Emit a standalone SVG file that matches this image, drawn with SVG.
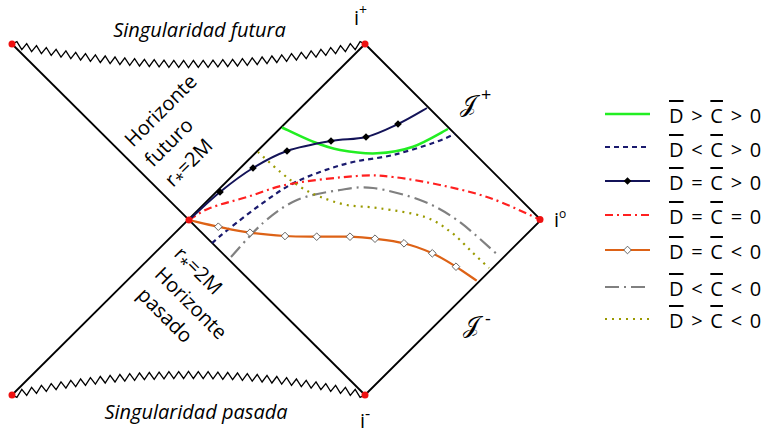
<svg xmlns="http://www.w3.org/2000/svg" width="767" height="434" viewBox="0 0 767 434">
<style>
.edge{stroke:#000;stroke-width:1.8;fill:none}
.zig{stroke:#000;stroke-width:1.3;fill:none}
.dot{fill:#ee1111}
.lbl{font-family:"Open Sans","Noto Sans","DejaVu Sans",sans-serif;font-size:20px;fill:#000}
.it{font-style:italic;font-size:20px}
.scr{font-family:"DejaVu Serif","DejaVu Sans","Liberation Serif",serif;font-size:24px;fill:#000}
.sup{font-family:"Open Sans","DejaVu Sans",sans-serif;font-size:18px}
.ov{text-decoration:overline}
.green{stroke:#22ee22;stroke-width:2.5;fill:none}
.navyd{stroke:#1a1a6e;stroke-width:2.2;stroke-dasharray:5 4;fill:none}
.navy{stroke:#131358;stroke-width:2;fill:none}
.red{stroke:#ff2020;stroke-width:2.2;stroke-dasharray:8 4 2 4;fill:none}
.orange{stroke:#dd6216;stroke-width:2.2;fill:none}
.gray{stroke:#808080;stroke-width:2.2;stroke-dasharray:14 5 2 5;fill:none}
.olive{stroke:#9a9a00;stroke-width:2.2;stroke-dasharray:2 5;fill:none}
.bd{fill:#000}
.wd{fill:#fff;stroke:#555;stroke-width:0.9}
</style>
<defs>
<path id="dm" d="M0,-3.8 L3.8,0 L0,3.8 L-3.8,0Z"/>
</defs>

<g id="singularities">
<path class="zig" d="M12,44 L16.9,41.6 L21.8,49.7 L26.7,43.7 L31.6,51.7 L36.5,45.7 L41.4,53.6 L46.3,47.5 L51.2,55.4 L56.1,49.3 L61,57.1 L65.9,50.9 L70.8,58.6 L75.7,52.3 L80.6,60 L85.5,53.7 L90.4,61.3 L95.4,54.9 L100.3,62.5 L105.2,56 L110.1,63.6 L115,57 L119.9,64.5 L124.8,57.9 L129.7,65.3 L134.6,58.6 L139.5,66 L144.4,59.3 L149.3,66.5 L154.2,59.7 L159.1,66.9 L164,60.1 L168.9,67.3 L173.8,60.4 L178.7,67.4 L183.6,60.5 L188.5,67.5 L193.4,60.5 L198.3,67.4 L203.2,60.4 L208.1,67.3 L213,60.1 L217.9,66.9 L222.8,59.7 L227.7,66.5 L232.6,59.3 L237.5,66 L242.4,58.6 L247.3,65.3 L252.2,57.9 L257.2,64.5 L262.1,57 L267,63.6 L271.9,56 L276.8,62.5 L281.7,54.9 L286.6,61.3 L291.5,53.7 L296.4,60 L301.3,52.3 L306.2,58.6 L311.1,50.9 L316,57.1 L320.9,49.3 L325.8,55.4 L330.7,47.5 L335.6,53.6 L340.5,45.7 L345.4,51.7 L350.3,43.7 L355.2,49.7 L360.1,41.6 L365,44"/>
<path class="zig" d="M12,395 L16.9,397.4 L21.8,389.3 L26.7,395.3 L31.6,387.3 L36.5,393.3 L41.4,385.4 L46.3,391.5 L51.2,383.6 L56.1,389.7 L61,381.9 L65.9,388.1 L70.8,380.4 L75.7,386.7 L80.6,379 L85.5,385.3 L90.4,377.7 L95.4,384.1 L100.3,376.5 L105.2,383 L110.1,375.4 L115,382 L119.9,374.5 L124.8,381.1 L129.7,373.7 L134.6,380.4 L139.5,373 L144.4,379.7 L149.3,372.5 L154.2,379.3 L159.1,372.1 L164,378.9 L168.9,371.7 L173.8,378.6 L178.7,371.6 L183.6,378.5 L188.5,371.5 L193.4,378.5 L198.3,371.6 L203.2,378.6 L208.1,371.7 L213,378.9 L217.9,372.1 L222.8,379.3 L227.7,372.5 L232.6,379.7 L237.5,373 L242.4,380.4 L247.3,373.7 L252.2,381.1 L257.2,374.5 L262.1,382 L267,375.4 L271.9,383 L276.8,376.5 L281.7,384.1 L286.6,377.7 L291.5,385.3 L296.4,379 L301.3,386.7 L306.2,380.4 L311.1,388.1 L316,381.9 L320.9,389.7 L325.8,383.6 L330.7,391.5 L335.6,385.4 L340.5,393.3 L345.4,387.3 L350.3,395.3 L355.2,389.3 L360.1,397.4 L365,395"/>
</g>

<g id="frame">
<line class="edge" x1="12" y1="44" x2="365" y2="395"/>
<line class="edge" x1="12" y1="395" x2="365" y2="44"/>
<polyline class="edge" points="365,44 541,220 365,395"/>
</g>

<g id="connectors">
<path class="green" d="M282,127.5 C287.2,129.9 303.3,137.95 313,141.7 C322.7,145.5 329.3,148.1 340,150 C350.7,151.9 364.8,153.85 377,153.3 C389.2,152.8 401.2,150.75 413,146.7 C424.8,142.6 442.2,131.95 448,129"/>
<path class="navyd" d="M212,243 C215,240.5 222,234.3 230,228 C238,221.7 250,212.2 260,205 C270,197.8 280,190.5 290,185 C300,179.5 309.5,175.8 320,172 C330.5,168.2 340.8,164.8 353,162 C365.2,159.2 379.7,158.2 393,155 C406.3,151.8 422.7,146.5 433,143 C443.3,139.5 451.3,135.5 455,134"/>
<path class="red" d="M189,220 C192.5,218 200.3,211.8 210,208 C219.7,204.2 233.7,201 247,197 C260.3,193 271.7,187.5 290,184 C308.3,180.5 339.8,177.2 357,176 C374.2,174.8 379.2,175.5 393,177 C406.8,178.5 423.8,181.5 440,185 C456.2,188.5 473.2,192.2 490,198 C506.8,203.8 532.5,216.3 541,220"/>
<path class="gray" d="M231,257 C236.3,251.3 252,232.5 263,223 C274,213.5 284.2,205.5 297,200 C309.8,194.5 327.3,192 340,190 C352.7,188 359.7,186.3 373,188 C386.3,189.7 406,194.7 420,200 C434,205.3 444,210.8 457,220 C470,229.2 491.2,249.2 498,255"/>
<path class="olive" d="M258,152 C261.7,155.3 273,165.9 280,171.7 C287,177.5 293.3,182.5 300,186.7 C306.7,190.9 312.2,193.65 320,196.7 C327.8,199.75 337,203.1 347,205 C357,206.9 367,206.3 380,208.3 C393,210.3 413,212.9 425,217 C437,221.1 444,227 452,233 C460,239 466.8,247.2 473,253 C479.2,258.8 486.3,265.5 489,268"/>
<path class="orange" d="M189,220 C193.9,221.1 208.1,224.6 218.3,226.7 C228.5,228.8 238.9,231.15 250,232.7 C261.1,234.25 273.9,235.3 285,236 C296.1,236.7 305.9,236.6 316.7,236.7 C327.5,236.8 340.3,236.4 350,236.7 C359.7,237 366,237.6 375,238.7 C384,239.8 394.4,240.9 404,243.3 C413.6,245.7 423.6,249.4 432.3,253.3 C441,257.2 448.6,262.1 456,266.7 C463.4,271.3 473.25,278.4 476.7,280.7"/>
<path class="navy" d="M189,220 C194.2,215.3 209.3,200.7 220,192 C230.7,183.3 241.8,174.8 253,168 C264.2,161.2 274,155.5 287,151 C300,146.5 317.8,143.3 331,141 C344.2,138.7 354.8,139.8 366,137 C377.2,134.2 387.8,128.8 398,124 C408.2,119.2 422.2,110.7 427,108"/>
<g class="bd">
<use href="#dm" x="220" y="192"/><use href="#dm" x="253" y="168"/><use href="#dm" x="287" y="151"/><use href="#dm" x="331" y="141"/><use href="#dm" x="366" y="137"/><use href="#dm" x="398" y="124"/>
</g>
<g class="wd">
<use href="#dm" x="218.3" y="226.7"/><use href="#dm" x="250" y="232.7"/><use href="#dm" x="285" y="236"/><use href="#dm" x="316.7" y="236.7"/><use href="#dm" x="350" y="236.7"/><use href="#dm" x="375" y="238.7"/><use href="#dm" x="404" y="243.3"/><use href="#dm" x="432.3" y="253.3"/><use href="#dm" x="456" y="266.7"/>
</g>
</g>

<g id="dots">
<circle class="dot" cx="12" cy="44" r="3.5"/>
<circle class="dot" cx="365" cy="44" r="3.5"/>
<circle class="dot" cx="189" cy="220" r="3.5"/>
<circle class="dot" cx="540" cy="219.5" r="3.5"/>
<circle class="dot" cx="12" cy="395" r="3.5"/>
<circle class="dot" cx="365" cy="395" r="3.5"/>
</g>

<g id="labels">
<text class="lbl it" x="199.5" y="37" text-anchor="middle">Singularidad futura</text>
<text class="lbl it" x="196" y="419" text-anchor="middle">Singularidad pasada</text>
<text class="lbl" x="354" y="25" font-size="22">i<tspan font-size="14" dy="-10">+</tspan></text>
<text class="lbl" x="360" y="428" font-size="20">i<tspan font-size="16" dy="-9">-</tspan></text>
<text class="lbl" x="554" y="227" font-size="22">i<tspan font-size="12" dy="-9">o</tspan></text>
<text class="scr" x="460" y="112">𝒥</text>
<text class="sup" x="481" y="101">+</text>
<text class="scr" x="463" y="333">𝒥</text>
<text class="sup" x="485" y="325">-</text>
<text class="lbl" transform="translate(133,148) rotate(-45)">Horizonte</text>
<text class="lbl" transform="translate(153,168) rotate(-45)">futuro</text>
<text class="lbl" transform="translate(173,188) rotate(-45)">r<tspan dy="5" font-size="16">*</tspan><tspan dy="-5">=2M</tspan></text>
<text class="lbl" transform="translate(173,255) rotate(45)">r<tspan dy="5" font-size="16">*</tspan><tspan dy="-5">=2M</tspan></text>
<text class="lbl" transform="translate(153.5,275.5) rotate(45)">Horizonte</text>
<text class="lbl" transform="translate(136,296) rotate(45)">pasado</text>
</g>

<g id="legend" class="lbl" font-size="20" word-spacing="2.5">
<g id="leg1"><line class="green" x1="605" y1="114" x2="650" y2="114"/><text x="669" y="123"><tspan class="ov">D</tspan> &gt; <tspan class="ov">C</tspan> &gt; 0</text></g>
<g id="leg2"><line class="navyd" x1="605" y1="147" x2="650" y2="147"/><text x="669" y="157"><tspan class="ov">D</tspan> &lt; <tspan class="ov">C</tspan> &gt; 0</text></g>
<g id="leg3"><line class="navy" x1="605" y1="181" x2="650" y2="181"/><use href="#dm" x="627.5" y="181" class="bd"/><text x="669" y="190"><tspan class="ov">D</tspan> = <tspan class="ov">C</tspan> &gt; 0</text></g>
<g id="leg4"><line class="red" x1="605" y1="215" x2="650" y2="215"/><text x="669" y="224"><tspan class="ov">D</tspan> = <tspan class="ov">C</tspan> = 0</text></g>
<g id="leg5"><line class="orange" x1="605" y1="250" x2="650" y2="250"/><use href="#dm" x="627.5" y="250" class="wd"/><text x="669" y="259"><tspan class="ov">D</tspan> = <tspan class="ov">C</tspan> &lt; 0</text></g>
<g id="leg6"><line class="gray" x1="605" y1="287" x2="650" y2="287"/><text x="669" y="296"><tspan class="ov">D</tspan> &lt; <tspan class="ov">C</tspan> &lt; 0</text></g>
<g id="leg7"><line class="olive" x1="605" y1="319" x2="650" y2="319"/><text x="669" y="328"><tspan class="ov">D</tspan> &gt; <tspan class="ov">C</tspan> &lt; 0</text></g>
</g>
</svg>
